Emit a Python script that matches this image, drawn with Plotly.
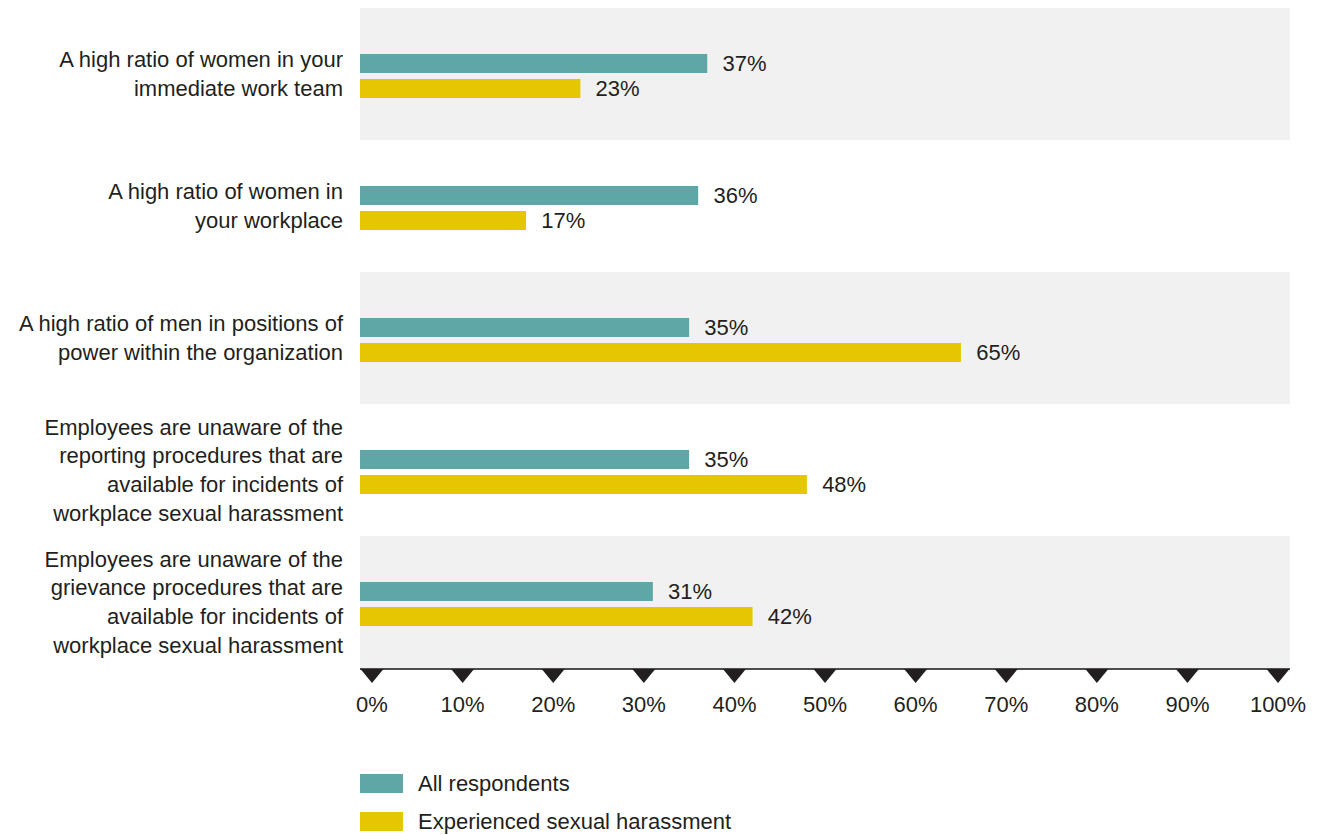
import plotly.graph_objects as go

categories = [
    "A high ratio of women in your<br>immediate work team",
    "A high ratio of women in<br>your workplace",
    "A high ratio of men in positions of<br>power within the organization",
    "Employees are unaware of the<br>reporting procedures that are<br>available for incidents of<br>workplace sexual harassment",
    "Employees are unaware of the<br>grievance procedures that are<br>available for incidents of<br>workplace sexual harassment",
]
all_respondents = [37, 36, 35, 35, 31]
experienced = [23, 17, 65, 48, 42]
series_names = ["All respondents", "Experienced sexual harassment"]
tick_values = [0, 10, 20, 30, 40, 50, 60, 70, 80, 90, 100]
tick_labels = [f"{v}%" for v in tick_values]

TEAL = "#5ea7a6"
YELLOW = "#e4c700"
BAND = "#f0f1f0"
TEXT = "#231f20"
FONT = "Liberation Sans, Arial, sans-serif"

X_MIN, X_MAX = -1.325, 101.32
positions = list(range(len(categories)))
BAR_W = 0.144

fig = go.Figure()
for name, vals, col, off in [(series_names[0], all_respondents, TEAL, -0.1515),
                             (series_names[1], experienced, YELLOW, 0.0379)]:
    fig.add_trace(go.Bar(
        y=positions, x=[v - X_MIN for v in vals], base=X_MIN,
        orientation="h", name=name, marker=dict(color=col, line=dict(width=0)),
        width=BAR_W, offset=off,
        text=[f"\u00a0\u00a0{v}%" for v in vals], texttemplate="%{text}",
        textposition="outside", constraintext="none", cliponaxis=False,
        outsidetextfont=dict(family=FONT, size=22, color=TEXT),
        showlegend=False, hoverinfo="skip",
    ))

# tick triangles just below the axis line
for v in tick_values:
    fig.add_shape(type="path", xref="x", yref="paper",
                  xsizemode="pixel", ysizemode="pixel", xanchor=v, yanchor=0,
                  path="M-11.5,-1 L11.5,-1 L0,-15 Z",
                  fillcolor=TEXT, line=dict(width=0))

# alternating bands
for i in range(0, len(categories), 2):
    fig.add_shape(type="rect", xref="paper", yref="y", x0=0, x1=1,
                  y0=i - 0.5, y1=i + 0.5, fillcolor=BAND, line=dict(width=0),
                  layer="below")

# manual legend
legend_y = [(-0.1606, -0.1894), (-0.218, -0.2468)]
for (y0, y1), name, col in zip(legend_y, series_names, [TEAL, YELLOW]):
    fig.add_shape(type="rect", xref="paper", yref="paper", x0=0, x1=0.0462,
                  y0=y1, y1=y0, fillcolor=col, line=dict(width=0))
    fig.add_annotation(xref="paper", yref="paper", x=0.0602, y=(y0 + y1) / 2,
                       text=name, showarrow=False, xanchor="left",
                       yanchor="middle",
                       font=dict(family=FONT, size=22, color=TEXT))

fig.update_layout(
    width=1315, height=827,
    margin=dict(l=352, r=33, t=0, b=167),
    paper_bgcolor="white", plot_bgcolor="white",
    barmode="overlay",
    font=dict(family=FONT, size=22, color=TEXT),
    xaxis=dict(range=[X_MIN, X_MAX], tickvals=tick_values, ticktext=tick_labels,
               showgrid=False, zeroline=False, showline=True,
               linecolor="#4d4d4d", linewidth=1.5, ticks="",
               ticklabelstandoff=16,
               tickfont=dict(family=FONT, size=22, color=TEXT)),
    yaxis=dict(autorange=False, range=[len(categories) - 0.5, -0.5],
               tickvals=positions, ticktext=categories,
               showgrid=False, zeroline=False, showline=False, ticks="",
               ticklabelstandoff=16,
               tickfont=dict(family=FONT, size=22, color=TEXT)),
)

fig.write_html("out.html")
